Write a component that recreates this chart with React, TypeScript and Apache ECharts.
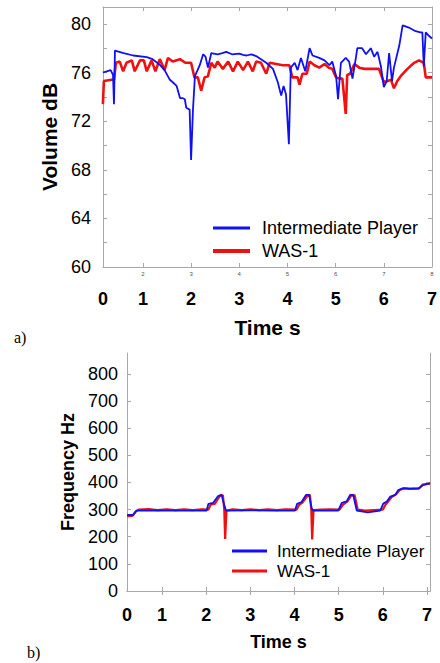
import React, { useEffect, useRef } from "react";
import * as echarts from "echarts";

// ---- Top chart (a): Volume dB ----
const volPlayerT = [0.17, 0.25, 0.33, 0.38, 0.40, 0.42, 0.6, 0.8, 1.08, 1.2, 1.35, 1.45, 1.56, 1.62, 1.70, 1.77, 1.82, 1.87, 1.90, 1.97, 2.00, 2.04, 2.08, 2.18, 2.25, 2.30, 2.35, 2.42, 2.55, 2.65, 2.73, 2.85, 3.0, 3.08, 3.15, 3.25, 3.35, 3.45, 3.56, 3.70, 3.80, 3.87, 3.92, 3.97, 4.03, 4.07, 4.15, 4.21, 4.28, 4.37, 4.46, 4.52, 4.66, 4.77, 4.87, 4.93, 5.01, 5.05, 5.11, 5.21, 5.28, 5.35, 5.42, 5.45, 5.55, 5.63, 5.73, 5.80, 5.87, 5.94, 6.00, 6.06, 6.11, 6.17, 6.21, 6.32, 6.39, 6.52, 6.66, 6.76, 6.80, 6.83, 6.87, 6.94, 7.00];
const volPlayerV = [76.0, 76.1, 76.2, 75.8, 73.4, 77.8, 77.6, 77.4, 77.27, 77.1, 76.64, 76.2, 75.4, 75.2, 74.9, 73.9, 73.9, 73.8, 73.1, 72.95, 68.8, 73.0, 75.7, 76.6, 77.5, 77.3, 76.4, 77.6, 77.5, 77.6, 77.7, 77.5, 77.55, 77.45, 77.4, 77.5, 77.35, 77.1, 76.8, 76.3, 75.2, 74.1, 74.9, 74.2, 70.1, 76.4, 76.8, 76.2, 77.2, 76.1, 78.0, 77.4, 77.2, 77.0, 76.6, 76.9, 75.7, 73.8, 76.8, 77.2, 76.9, 75.5, 77.2, 78.0, 78.0, 77.5, 78.0, 77.3, 77.7, 76.5, 74.8, 75.3, 77.6, 75.3, 76.4, 78.2, 79.87, 79.7, 79.4, 79.3, 79.3, 76.5, 79.3, 79.0, 78.8];
const volWasT = [0.17, 0.19, 0.35, 0.40, 0.44, 0.52, 0.59, 0.66, 0.77, 0.83, 0.94, 1.02, 1.08, 1.18, 1.26, 1.35, 1.45, 1.52, 1.62, 1.77, 1.88, 2.00, 2.07, 2.14, 2.21, 2.28, 2.35, 2.42, 2.49, 2.55, 2.66, 2.77, 2.87, 2.97, 3.08, 3.18, 3.28, 3.35, 3.45, 3.56, 3.63, 3.77, 3.90, 4.04, 4.10, 4.21, 4.25, 4.31, 4.40, 4.46, 4.56, 4.66, 4.77, 4.86, 4.93, 5.01, 5.08, 5.14, 5.21, 5.24, 5.30, 5.39, 5.49, 5.60, 5.70, 5.80, 5.90, 6.00, 6.08, 6.15, 6.21, 6.28, 6.35, 6.49, 6.63, 6.73, 6.83, 6.87, 7.00];
const volWasV = [73.4, 75.3, 75.4, 75.4, 76.8, 76.9, 76.1, 76.8, 77.0, 76.1, 77.0, 77.0, 76.1, 77.0, 76.1, 77.1, 76.2, 77.2, 76.9, 77.1, 76.8, 76.8, 75.6, 75.6, 74.5, 75.6, 75.7, 76.8, 76.4, 76.9, 76.3, 76.9, 76.1, 76.9, 76.2, 76.9, 76.1, 76.9, 76.8, 75.9, 76.8, 76.7, 76.6, 76.6, 75.6, 75.6, 75.0, 75.9, 75.9, 76.9, 76.6, 76.4, 76.7, 76.4, 76.3, 75.6, 75.5, 75.5, 72.6, 75.8, 75.9, 76.7, 76.4, 76.3, 76.3, 76.3, 76.3, 75.2, 75.3, 75.4, 74.7, 75.3, 75.7, 76.3, 76.8, 77.0, 76.8, 75.6, 75.6];
const volYTicks = [60, 62, 64, 66, 68, 70, 72, 74, 76, 78, 80];
const volYLabels = [60, 64, 68, 72, 76, 80];
const timeTicks = [1, 2, 3, 4, 5, 6, 7];
const volXMin = 0.172;
const volXMax = 7.0;
const volYMin = 60;
const volYMax = 81.39;

// ---- Bottom chart (b): Frequency Hz ----
const freqPlayerT = [0.21, 0.35, 0.42, 0.9, 1.5, 2.01, 2.05, 2.16, 2.27, 2.35, 2.40, 2.45, 3.0, 3.5, 4.01, 4.06, 4.16, 4.26, 4.33, 4.39, 4.43, 4.99, 5.07, 5.18, 5.26, 5.33, 5.41, 5.66, 5.94, 6.01, 6.09, 6.17, 6.28, 6.35, 6.46, 6.69, 6.80, 6.92, 7.07];
const freqPlayerV = [280, 280, 296, 297, 296, 296, 321, 325, 350, 354, 322, 296, 297, 296, 296, 321, 328, 354, 354, 304, 296, 296, 325, 330, 354, 354, 296, 290, 296, 322, 330, 348, 354, 372, 379, 376, 377, 391, 397];
const freqWasT = [0.21, 0.33, 0.40, 0.47, 0.7, 0.9, 1.1, 1.3, 1.5, 1.7, 1.9, 2.05, 2.10, 2.20, 2.27, 2.33, 2.38, 2.41, 2.43, 2.46, 2.6, 2.8, 3.0, 3.2, 3.4, 3.6, 3.8, 4.05, 4.10, 4.18, 4.28, 4.35, 4.38, 4.40, 4.43, 4.6, 4.8, 5.02, 5.10, 5.20, 5.28, 5.36, 5.43, 5.6, 5.8, 6.0, 6.06, 6.12, 6.20, 6.30, 6.38, 6.48, 6.6, 6.7, 6.82, 6.9, 7.07];
const freqWasV = [276, 277, 292, 300, 302, 298, 301, 298, 301, 298, 301, 300, 318, 322, 340, 354, 352, 300, 192, 296, 301, 298, 301, 298, 301, 298, 301, 300, 316, 326, 348, 354, 300, 190, 298, 300, 301, 300, 318, 330, 350, 354, 300, 296, 298, 300, 318, 330, 346, 356, 372, 378, 376, 378, 378, 392, 396];
const freqYTicks = [0, 100, 200, 300, 400, 500, 600, 700, 800];
const freqXMin = 0.208;
const freqXMax = 7.068;
const freqYMin = 0;
const freqYMax = 877;

const seriesNames = ["Intermediate Player", "WAS-1"];
const BLUE = "#1010f5";
const RED = "#f01010";
const FRAME = "#a8a8a8";
const SANS = "'Liberation Sans', Arial, sans-serif";

function zip(t: number[], v: number[]) {
  return t.map((x, i) => [x, v[i]]);
}

function frameAxis(extra: any) {
  return {
    type: "value",
    axisLine: { show: true, lineStyle: { color: FRAME, width: 1 } },
    axisTick: { show: true, inside: true, length: 4, lineStyle: { color: FRAME } },
    axisLabel: { show: false },
    splitLine: { show: false },
    ...extra,
  };
}

export default function App() {
  const ref = useRef<HTMLDivElement>(null);
  useEffect(() => {
    document.body.style.margin = "0";
    if (!ref.current) return;
    const chart = echarts.init(ref.current, null, { renderer: "svg" });
    const zeroFmt = (min: number) => (v: number) => (Math.abs(v - min) < 0.01 ? "0" : String(Math.round(v)));
    const option: any = {
      animation: false,
      backgroundColor: "#ffffff",
      grid: [
        { left: 103, top: 7, width: 330, height: 260 },
        { left: 127, top: 353, width: 303, height: 238 },
      ],
      xAxis: [
        frameAxis({
          gridIndex: 0, position: "bottom", min: volXMin, max: volXMax,
          axisTick: { show: true, inside: true, length: 4, lineStyle: { color: FRAME }, customValues: timeTicks },
          axisLabel: {
            show: true, customValues: [volXMin, ...timeTicks], formatter: zeroFmt(volXMin),
            fontSize: 18, fontWeight: "bold", fontFamily: SANS, color: "#000", margin: 23,
          },
          name: "Time s", nameLocation: "middle", nameGap: 50,
          nameTextStyle: { fontSize: 21, fontWeight: "bold", fontFamily: SANS, color: "#000" },
        }),
        frameAxis({
          gridIndex: 0, position: "bottom", min: volXMin, max: volXMax,
          axisLine: { show: false }, axisTick: { show: false },
          axisLabel: {
            show: true, customValues: timeTicks, formatter: (v: number) => String(Math.round(v) + 1),
            fontSize: 6, fontFamily: SANS, color: "#555", margin: 4,
          },
        }),
        frameAxis({
          gridIndex: 0, position: "top", min: volXMin, max: volXMax,
          axisTick: { show: true, inside: true, length: 4, lineStyle: { color: FRAME }, customValues: timeTicks },
        }),
        frameAxis({
          gridIndex: 1, position: "bottom", min: freqXMin, max: freqXMax,
          axisTick: { show: true, inside: true, length: 4, lineStyle: { color: FRAME }, customValues: timeTicks },
          axisLabel: {
            show: true, customValues: [freqXMin, ...timeTicks], formatter: zeroFmt(freqXMin),
            fontSize: 18, fontWeight: "bold", fontFamily: SANS, color: "#000", margin: 15,
          },
          name: "Time s", nameLocation: "middle", nameGap: 42,
          nameTextStyle: { fontSize: 18, fontWeight: "bold", fontFamily: SANS, color: "#000" },
        }),
        frameAxis({
          gridIndex: 1, position: "top", min: freqXMin, max: freqXMax,
          axisTick: { show: true, inside: true, length: 4, lineStyle: { color: FRAME }, customValues: timeTicks },
        }),
      ],
      yAxis: [
        frameAxis({
          gridIndex: 0, position: "left", min: volYMin, max: volYMax,
          axisTick: { show: true, inside: true, length: 4, lineStyle: { color: FRAME }, customValues: volYTicks },
          axisLabel: {
            show: true, customValues: volYLabels, fontSize: 18, fontFamily: SANS, color: "#000", margin: 12,
          },
          name: "Volume dB", nameLocation: "middle", nameGap: 40, nameRotate: 90,
          nameTextStyle: { fontSize: 21, fontWeight: "bold", fontFamily: SANS, color: "#000" },
        }),
        frameAxis({
          gridIndex: 0, position: "right", min: volYMin, max: volYMax,
          axisTick: { show: true, inside: true, length: 4, lineStyle: { color: FRAME }, customValues: volYTicks },
        }),
        frameAxis({
          gridIndex: 1, position: "left", min: freqYMin, max: freqYMax,
          axisTick: { show: true, inside: true, length: 4, lineStyle: { color: FRAME }, customValues: freqYTicks },
          axisLabel: {
            show: true, customValues: freqYTicks, fontSize: 18, fontFamily: SANS, color: "#000", margin: 9,
          },
          name: "Frequency Hz", nameLocation: "middle", nameGap: 50, nameRotate: 90,
          nameTextStyle: { fontSize: 18, fontWeight: "bold", fontFamily: SANS, color: "#000" },
        }),
        frameAxis({
          gridIndex: 1, position: "right", min: freqYMin, max: freqYMax,
          axisTick: { show: true, inside: true, length: 4, lineStyle: { color: FRAME }, customValues: freqYTicks },
        }),
      ],
      legend: [
        { name: "a0", left: 213, top: 218, data: [seriesNames[0]], icon: "rect", itemWidth: 37, itemHeight: 3, selectedMode: false,
          textStyle: { fontSize: 18, fontFamily: SANS, color: "#000", padding: [0, 0, 0, 7], lineHeight: 20 }, padding: 0 },
        { name: "a1", left: 213, top: 241, data: [seriesNames[1]], icon: "rect", itemWidth: 37, itemHeight: 4, selectedMode: false,
          textStyle: { fontSize: 18, fontFamily: SANS, color: "#000", padding: [0, 0, 0, 7], lineHeight: 20 }, padding: 0 },
        { name: "b0", left: 232, top: 541, data: [seriesNames[0]], icon: "rect", itemWidth: 35, itemHeight: 3, selectedMode: false,
          textStyle: { fontSize: 17, fontFamily: SANS, color: "#000", padding: [0, 0, 0, 5], lineHeight: 20 }, padding: 0 },
        { name: "b1", left: 232, top: 561, data: [seriesNames[1]], icon: "rect", itemWidth: 35, itemHeight: 3, selectedMode: false,
          textStyle: { fontSize: 17, fontFamily: SANS, color: "#000", padding: [0, 0, 0, 5], lineHeight: 20 }, padding: 0 },
      ],
      series: [
        { name: seriesNames[1], type: "line", xAxisIndex: 0, yAxisIndex: 0, showSymbol: false, color: RED,
          lineStyle: { color: RED, width: 2.6 }, data: zip(volWasT, volWasV) },
        { name: seriesNames[0], type: "line", xAxisIndex: 0, yAxisIndex: 0, showSymbol: false, color: BLUE,
          lineStyle: { color: BLUE, width: 1.8 }, data: zip(volPlayerT, volPlayerV) },
        { name: seriesNames[1], type: "line", xAxisIndex: 3, yAxisIndex: 2, showSymbol: false, color: RED,
          lineStyle: { color: RED, width: 2.2 }, data: zip(freqWasT, freqWasV) },
        { name: seriesNames[0], type: "line", xAxisIndex: 3, yAxisIndex: 2, showSymbol: false, color: BLUE,
          lineStyle: { color: BLUE, width: 1.8 }, data: zip(freqPlayerT, freqPlayerV) },
      ],
      graphic: [
        { type: "text", left: 14, top: 329, style: { text: "a)", font: "16px 'Liberation Serif', 'Times New Roman', serif", fill: "#000" } },
        { type: "text", left: 27, top: 644, style: { text: "b)", font: "16px 'Liberation Serif', 'Times New Roman', serif", fill: "#000" } },
      ],
    };
    chart.setOption(option);
    return () => chart.dispose();
  }, []);
  return <div ref={ref} style={{ width: 440, height: 663 }} />;
}
